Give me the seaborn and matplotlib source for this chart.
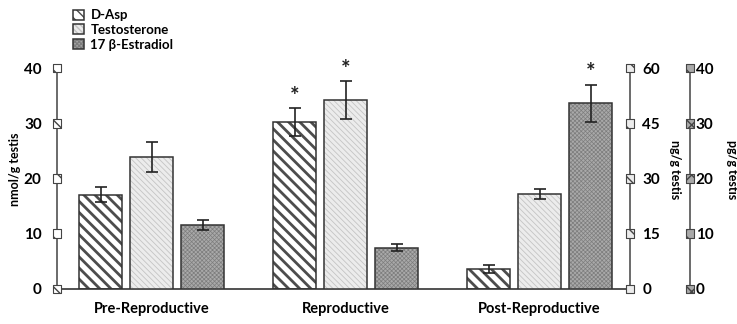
import matplotlib.pyplot as plt
import matplotlib.colors as mcolors
import seaborn as sns
import pandas as pd

# data
stages = ['Pre-Reproductive', 'Reproductive', 'Post-Reproductive']
series = ['D-Asp', 'Testosterone', '17 β-Estradiol']

d_asp = [17.1, 30.2, 3.6]            # nmol/g testis
d_asp_err = [1.3, 2.5, 0.7]
testosterone = [35.9, 51.3, 25.7]    # ng/g testis
testosterone_err = [4.1, 5.1, 1.4]
estradiol = [11.6, 7.5, 33.6]        # pg/g testis
estradiol_err = [0.9, 0.6, 3.4]

stars_d_asp = [False, True, False]
stars_testosterone = [False, True, False]
stars_estradiol = [False, False, True]

left_ticks = [0, 10, 20, 30, 40]
ng_ticks = [0, 15, 30, 45, 60]
pg_ticks = [0, 10, 20, 30, 40]

plt.rcParams['font.family'] = ['Lato', 'DejaVu Sans']
plt.rcParams['font.weight'] = 'bold'
plt.rcParams['axes.labelweight'] = 'bold'

# per series look: face, hatch, hatch colour, hatch width
looks = {
    'D-Asp': ('white', '\\\\\\', '#4d4d4d', 2.0),
    'Testosterone': ('#ececec', '\\\\\\\\\\\\', '#c4c4c4', 0.6),
    '17 β-Estradiol': ('#a9a9a9', 'xxxxxxxx', '#7d7d7d', 0.5),
}

fig = plt.figure(figsize=(7.37, 3.24), dpi=100)
ax = fig.add_axes([57 / 737, 35 / 324, 573 / 737, 221 / 324])
ax2 = ax.twinx()
ax3 = ax.twinx()

spine_col = '#5f5f5f'
handles = []
sets = [
    (ax, 'D-Asp', d_asp, d_asp_err, stars_d_asp, left_ticks),
    (ax2, 'Testosterone', testosterone, testosterone_err, stars_testosterone, ng_ticks),
    (ax3, '17 β-Estradiol', estradiol, estradiol_err, stars_estradiol, pg_ticks),
]

for a, name, vals, errs, stars, ticks in sets:
    df = pd.DataFrame({'stage': stages, 'value': vals, 'series': name})
    fc, hatch, hc, hlw = looks[name]
    sns.barplot(data=df, x='stage', y='value', hue='series', order=stages,
                hue_order=series, palette={s: looks[s][0] for s in series},
                width=0.79, gap=0.16, dodge=True, legend=False, ax=a,
                edgecolor='#333333', linewidth=1.1, saturation=1)
    bars = sorted(a.patches, key=lambda p: p.get_x())
    for b in bars:
        b.set_hatch(hatch)
        b._hatch_color = mcolors.to_rgba(hc)
        if hasattr(b, 'set_hatch_linewidth'):
            b.set_hatch_linewidth(hlw)
    handles.append(bars[0])
    xs = [b.get_x() + b.get_width() / 2 for b in bars]
    a.errorbar(xs, vals, yerr=errs, fmt='none', ecolor='#222222',
               elinewidth=1.2, capsize=4, capthick=1.2, zorder=5)
    for x, v, e, s in zip(xs, vals, errs, stars):
        if s:
            a.annotate('*', (x, v + e), xytext=(0, 1), textcoords='offset points',
                       ha='center', va='bottom', fontsize=16, color='#222222')
    a.set_ylim(ticks[0], ticks[-1])
    a.set_yticks(ticks)
    a.set_xlabel('')
    a.set_ylabel('')
    a.tick_params(axis='y', length=0, labelsize=11)
    # hatched square tick marks on the axis line
    xpos = {ax: 0, ax2: 1, ax3: 1.105}[a]
    sq = a.scatter([xpos] * len(ticks), ticks, marker='s', s=38,
                   transform=a.get_yaxis_transform(), clip_on=False,
                   facecolor=fc, edgecolor='#444444', linewidth=0.8,
                   hatch=hatch[:2], zorder=10)
    sq._hatch_color = mcolors.to_rgba(hc if name != 'Testosterone' else '#9a9a9a')
    for sp in a.spines.values():
        sp.set_visible(False)

ax.set_xlim(-0.489, 2.466)
ax.spines['left'].set_visible(True)
ax.spines['bottom'].set_visible(True)
ax.spines['left'].set_color(spine_col)
ax.spines['bottom'].set_color('#333333')
ax.spines['left'].set_linewidth(1.3)
ax.spines['bottom'].set_linewidth(1.2)
ax.tick_params(axis='y', pad=11)
ax.tick_params(axis='x', length=0, pad=9, labelsize=10.5)

ax2.spines['right'].set_visible(True)
ax2.spines['right'].set_color(spine_col)
ax2.spines['right'].set_linewidth(1.3)
ax2.tick_params(axis='y', pad=9)

ax3.spines['right'].set_visible(True)
ax3.spines['right'].set_position(('axes', 1.105))
ax3.spines['right'].set_color(spine_col)
ax3.spines['right'].set_linewidth(1.3)
ax3.tick_params(axis='y', pad=4)

ax.set_ylabel('nmol/g testis', fontsize=9)
ax.yaxis.set_label_coords(-0.063, 0.54)
ax2.set_ylabel('ng/g testis', fontsize=9, rotation=-90, va='center')
ax2.yaxis.set_label_coords(1.079, 0.54)
ax3.set_ylabel('pg/g testis', fontsize=9, rotation=-90, va='center')
ax3.yaxis.set_label_coords(1.178, 0.54)

fig.legend(handles, series, loc='upper left', bbox_to_anchor=(68 / 737, 1 - 4 / 324),
           frameon=False, fontsize=9.5, handlelength=0.8, handleheight=0.8,
           handletextpad=0.5, labelspacing=0.2, borderaxespad=0)

fig.savefig('out.png', dpi=100)
